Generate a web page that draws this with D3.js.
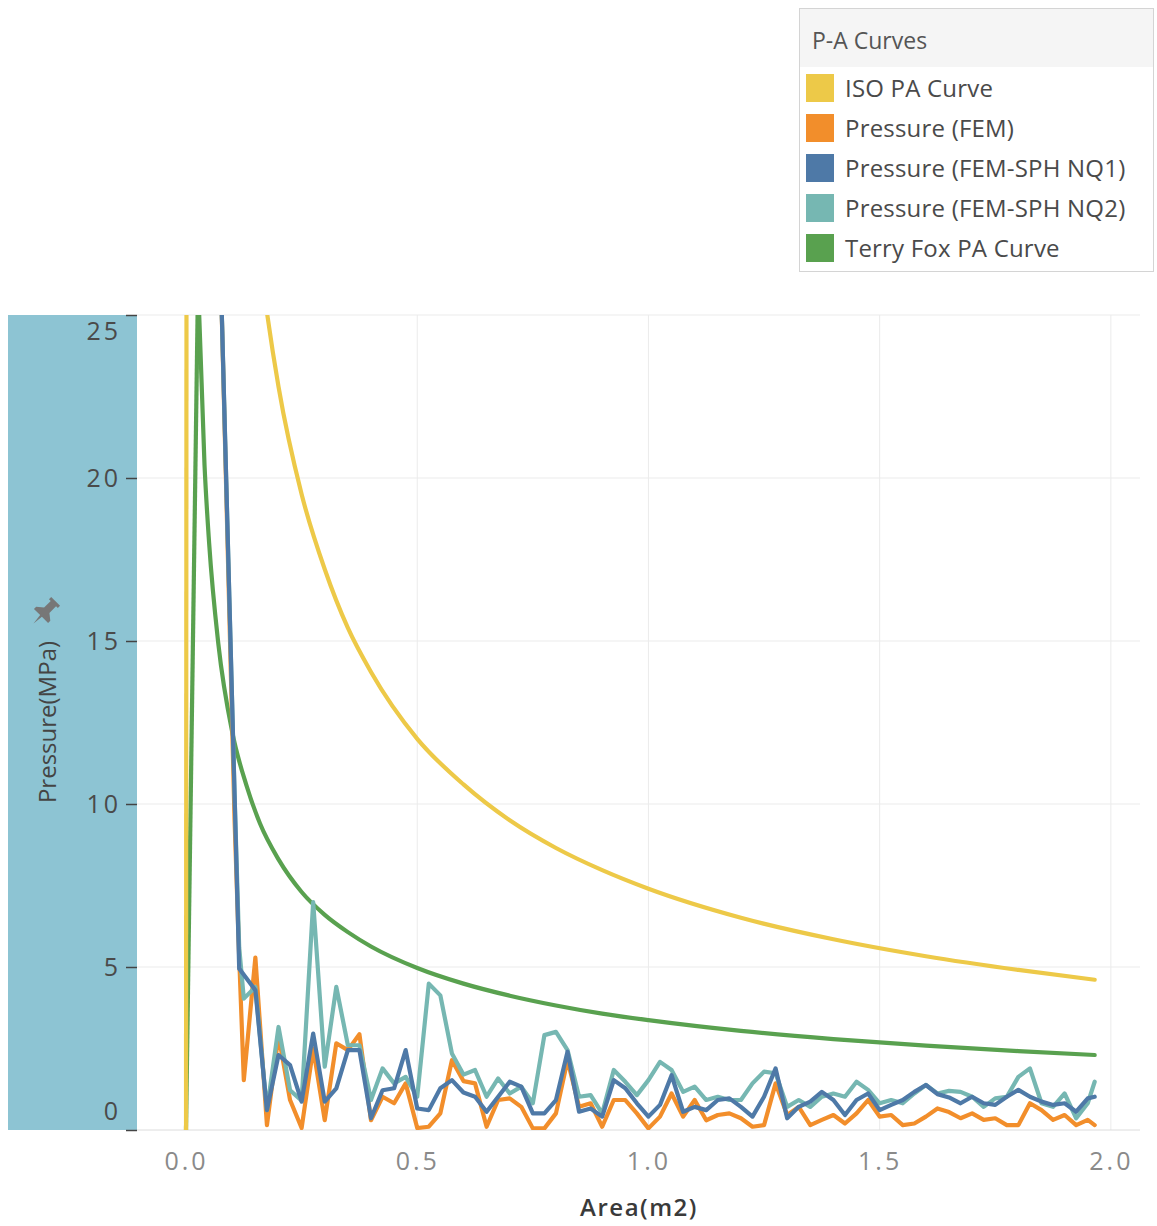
<!DOCTYPE html>
<html><head><meta charset="utf-8">
<script src="https://cdn.jsdelivr.net/npm/d3@7"></script>
<style>
body{margin:0;background:#fff}
svg{display:block}
text{font-family:"Open Sans",sans-serif}
</style>
</head><body>
<svg id="chart" width="1157" height="1226"></svg>
<script>
// ---------- data ----------
const seriesNames = ["ISO PA Curve","Pressure (FEM)","Pressure (FEM-SPH NQ1)","Pressure (FEM-SPH NQ2)","Terry Fox PA Curve"];
const seriesColors = ["#EDC948","#F28E2B","#4E79A7","#76B7B2","#59A14F"];
const xTicks = [0, 0.5, 1.0, 1.5, 2.0];
const yTicks = [0, 5, 10, 15, 20, 25];

// ISO PA curve (area m2, pressure MPa)
const isoArea = [0, 0.004, 0.1, 0.15, 0.17, 0.2, 0.25, 0.3, 0.35, 0.4, 0.5, 0.6, 0.7, 0.8, 0.9, 1.0, 1.2, 1.4, 1.6, 1.8, 1.965];
const isoP    = [0, 100, 37, 27.9, 25.6, 22.8, 19.5, 17.2, 15.4, 14.05, 12.0, 10.6, 9.5, 8.65, 7.97, 7.4, 6.51, 5.85, 5.33, 4.91, 4.61];

// Terry Fox PA curve
const tfArea = [0, 0.026, 0.04, 0.05, 0.07, 0.1, 0.13, 0.16, 0.2, 0.25, 0.3, 0.35, 0.4, 0.5, 0.6, 0.7, 0.8, 0.9, 1.0, 1.2, 1.4, 1.6, 1.8, 1.965];
const tfP    = [0, 26, 20.4, 18.0, 14.9, 12.2, 10.6, 9.4, 8.3, 7.3, 6.6, 6.07, 5.63, 4.97, 4.49, 4.12, 3.82, 3.57, 3.37, 3.04, 2.79, 2.59, 2.42, 2.30];

// simulated pressure series share one area axis
const femArea = [0.05, 0.075, 0.105, 0.115,
  0.125, 0.15, 0.175, 0.2, 0.225, 0.25, 0.275, 0.3, 0.325, 0.35,
  0.375, 0.4, 0.425, 0.45, 0.475, 0.5, 0.525, 0.55, 0.575, 0.6,
  0.625, 0.65, 0.675, 0.7, 0.725, 0.75, 0.775, 0.8, 0.825, 0.85,
  0.875, 0.9, 0.925, 0.95, 0.975, 1.0, 1.025, 1.05, 1.075, 1.1,
  1.125, 1.15, 1.175, 1.2, 1.225, 1.25, 1.275, 1.3, 1.325, 1.35,
  1.375, 1.4, 1.425, 1.45, 1.475, 1.5, 1.525, 1.55, 1.575, 1.6,
  1.625, 1.65, 1.675, 1.7, 1.725, 1.75, 1.775, 1.8, 1.825, 1.85,
  1.875, 1.9, 1.925, 1.95, 1.965];

const femP = [45, 26.3, 9.5, 5.3,
  1.53, 5.29, 0.15, 2.9, 0.92, 0.06, 2.5, 0.3, 2.66, 2.45,
  2.94, 0.3, 1.02, 0.82, 1.43, 0.06, 0.1, 0.51, 2.14, 1.5,
  1.43, 0.1, 0.92, 0.97, 0.71, 0.05, 0.05, 0.51, 2.14, 0.71,
  0.82, 0.1, 0.92, 0.92, 0.51, 0.05, 0.41, 1.12, 0.41, 0.92,
  0.3, 0.46, 0.51, 0.36, 0.1, 0.15, 1.43, 0.46, 0.71, 0.15,
  0.31, 0.46, 0.2, 0.51, 0.92, 0.41, 0.46, 0.15, 0.2, 0.41,
  0.66, 0.55, 0.36, 0.51, 0.31, 0.36, 0.15, 0.15, 0.82, 0.61,
  0.31, 0.46, 0.15, 0.31, 0.15];

const nq1P = [45, 26.3, 10.3, 4.95,
  4.76, 4.29, 0.61, 2.30, 1.99, 0.87, 2.96, 0.87, 1.28, 2.45,
  2.45, 0.36, 1.22, 1.28, 2.45, 0.66, 0.61, 1.28, 1.53, 1.15,
  1.02, 0.56, 1.02, 1.48, 1.33, 0.51, 0.51, 0.92, 2.40, 0.56,
  0.66, 0.41, 1.53, 1.28, 0.82, 0.41, 0.77, 1.68, 0.56, 0.71,
  0.61, 0.92, 0.97, 0.71, 0.41, 1.02, 1.89, 0.36, 0.71, 0.87,
  1.17, 0.92, 0.46, 0.92, 1.12, 0.61, 0.77, 0.92, 1.17, 1.38,
  1.1, 1.0, 0.82, 1.02, 0.82, 0.77, 1.02, 1.23, 1.02, 0.87,
  0.77, 0.82, 0.56, 0.97, 1.02];

const nq2P = [45, 26.3, 10.3, 5.6,
  4.03, 4.39, 0.61, 3.16, 1.22, 0.9, 6.99, 1.94, 4.39, 2.60,
  2.60, 0.92, 1.89, 1.43, 1.63, 1.02, 4.49, 4.13, 2.35, 1.7,
  1.84, 1.02, 1.58, 1.12, 1.33, 0.82, 2.91, 3.01, 2.45, 1.02,
  1.07, 0.51, 1.84, 1.48, 1.07, 1.53, 2.09, 1.84, 1.17, 1.33,
  0.92, 1.02, 0.92, 0.92, 1.43, 1.79, 1.74, 0.71, 0.92, 0.71,
  1.02, 1.12, 1.02, 1.48, 1.23, 0.82, 0.92, 0.82, 1.12, 1.38,
  1.12, 1.2, 1.17, 1.02, 0.71, 0.97, 1.02, 1.63, 1.89, 0.82,
  0.71, 1.12, 0.36, 0.82, 1.48];

// ---------- chart ----------
const svg = d3.select("#chart");
const P = {left:137, right:1140, top:315, bottom:1130};
const x = d3.scaleLinear().domain([-0.106, 2.063]).range([P.left, P.right]);
const y = d3.scaleLinear().domain([0, 25]).range([P.bottom, P.top]);
const LW = 4.2;

svg.append("rect").attr("width",1157).attr("height",1226).attr("fill","#fff");

// shaded y-axis band
svg.append("rect").attr("x",8).attr("y",P.top).attr("width",P.left-8).attr("height",P.bottom-P.top)
  .attr("fill","#8dc4d3");

svg.append("defs").append("clipPath").attr("id","clip")
  .append("rect").attr("x",P.left).attr("y",P.top).attr("width",P.right-P.left).attr("height",P.bottom-P.top);

// gridlines
svg.append("g").selectAll("line").data(yTicks.slice(1)).join("line")
  .attr("x1",P.left).attr("x2",P.right).attr("y1",d=>y(d)).attr("y2",d=>y(d))
  .attr("stroke","#ebebeb").attr("stroke-width",1);
svg.append("g").selectAll("line").data(xTicks.slice(1)).join("line")
  .attr("x1",d=>x(d)).attr("x2",d=>x(d)).attr("y1",P.top).attr("y2",P.bottom)
  .attr("stroke","#ebebeb").attr("stroke-width",1);
svg.append("line").attr("x1",P.left).attr("x2",P.right).attr("y1",P.bottom).attr("y2",P.bottom)
  .attr("stroke","#dcdcdc").attr("stroke-width",1);

// y axis
const yAxis = svg.append("g").attr("transform",`translate(${P.left},0)`)
  .call(d3.axisLeft(y).tickValues(yTicks).tickSize(11).tickPadding(5).tickFormat(d3.format("d")));
yAxis.select(".domain").remove();
yAxis.selectAll(".tick line").attr("stroke","#444").attr("stroke-width",1.5);
yAxis.selectAll(".tick text").attr("font-size",25).attr("fill","#4a4a4a")
  .attr("font-family","Open Sans").style("letter-spacing","3px");
yAxis.selectAll(".tick").filter(d=>d===25).select("text").attr("transform","translate(0,16)");
yAxis.selectAll(".tick").filter(d=>d===0).select("text").attr("transform","translate(0,-19)");

// x axis
const xAxis = svg.append("g").attr("transform",`translate(0,${P.bottom})`)
  .call(d3.axisBottom(x).tickValues(xTicks).tickSize(0).tickPadding(22).tickFormat(d3.format(".1f")));
xAxis.select(".domain").remove();
xAxis.selectAll(".tick text").attr("font-size",25).attr("fill","#8a8a8a")
  .attr("font-family","Open Sans").style("letter-spacing","3px");

// axis titles
svg.append("text").attr("x",639).attr("y",1216).attr("text-anchor","middle")
  .attr("font-size",24).attr("font-weight",600).attr("fill","#3a3a3a").style("letter-spacing","1.5px")
  .text("Area(m2)");
svg.append("text").attr("transform","translate(56,722) rotate(-90)").attr("text-anchor","middle")
  .attr("font-size",24).attr("fill","#444").text("Pressure(MPa)");

// pin icon
svg.append("path").attr("transform","translate(45,612) rotate(45) scale(1.25)")
  .attr("d","M-5,-12 L5,-12 L5,-9.5 L3,-9.5 L3,-2 L8,2 L8,4.5 L1,4.5 L0,13 L-1,4.5 L-8,4.5 L-8,2 L-3,-2 L-3,-9.5 L-5,-9.5 Z")
  .attr("fill","#777");

// lines
const plot = svg.append("g").attr("clip-path","url(#clip)");
const lineLin = d3.line().x(d=>x(d[0])).y(d=>y(d[1]));
const lineSmooth = d3.line().x(d=>x(d[0])).y(d=>y(d[1])).curve(d3.curveMonotoneX);
const zip = (a,b)=>a.map((v,i)=>[v,b[i]]);

function drawCurve(areaArr, pArr, color){
  const pts = zip(areaArr, pArr);
  plot.append("path").attr("d", lineLin(pts.slice(0,2))).attr("fill","none")
    .attr("stroke",color).attr("stroke-width",LW).attr("stroke-linejoin","round");
  plot.append("path").attr("d", lineSmooth(pts.slice(1))).attr("fill","none")
    .attr("stroke",color).attr("stroke-width",LW).attr("stroke-linejoin","round").attr("stroke-linecap","round");
}
function drawNoisy(pArr, color){
  plot.append("path").attr("d", lineLin(zip(femArea, pArr))).attr("fill","none")
    .attr("stroke",color).attr("stroke-width",LW).attr("stroke-linejoin","round").attr("stroke-linecap","round");
}
drawCurve(tfArea, tfP, seriesColors[4]);
drawNoisy(femP, seriesColors[1]);
drawNoisy(nq2P, seriesColors[3]);
drawNoisy(nq1P, seriesColors[2]);
drawCurve(isoArea, isoP, seriesColors[0]);

// legend
const lg = svg.append("g");
lg.append("rect").attr("x",799.5).attr("y",8.5).attr("width",354).attr("height",263)
  .attr("fill","#fff").attr("stroke","#d4d4d4");
lg.append("rect").attr("x",800).attr("y",9).attr("width",353).attr("height",58).attr("fill","#f5f5f5");
lg.append("text").attr("x",812).attr("y",49).attr("font-size",23).attr("fill","#555").text("P-A Curves");
const items = lg.selectAll("g.item").data(seriesNames).join("g").attr("class","item")
  .attr("transform",(d,i)=>`translate(0,${88 + i*40})`);
items.append("rect").attr("x",806).attr("y",-14).attr("width",28).attr("height",28)
  .attr("fill",(d,i)=>seriesColors[i]);
items.append("text").attr("x",845).attr("y",9).attr("font-size",24).attr("fill","#4a4a4a")
  .style("letter-spacing","0.2px").text(d=>d);
</script>
</body></html>
